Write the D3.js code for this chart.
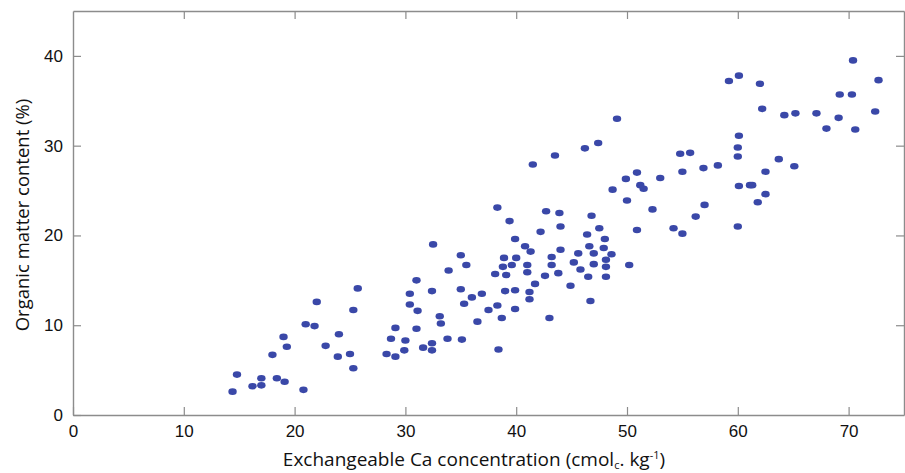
<!DOCTYPE html>
<html>
<head>
<meta charset="utf-8">
<script src="https://cdn.jsdelivr.net/npm/d3@7"></script>
<style>
  html, body { margin: 0; padding: 0; background: #fff; }
  svg { display: block; }
</style>
</head>
<body>
<div id="vue"></div>
<script>
// Exchangeable Ca (cmolc/kg) vs organic matter (%)
var caValues = [
  14.4, 14.8, 16.2, 17.0, 17.0, 18.4, 19.1, 20.8, 18.0, 19.0,
  19.3, 21.0, 21.8, 22.0, 22.8, 24.0, 23.9, 25.0, 25.3, 25.3,
  25.7, 28.3, 28.7, 29.1, 29.1,
  43.5, 41.5, 38.3, 42.7, 43.9, 39.4, 44.0, 42.2, 39.9, 40.8,
  41.3, 44.0, 32.5, 35.0, 35.5, 38.9, 40.0, 43.2, 38.8, 39.6,
  41.0, 43.2, 33.9, 38.1, 39.1, 41.0, 42.6, 43.8, 31.0, 44.9,
  30.4, 32.4, 35.0, 36.0, 36.9, 39.0, 39.9, 41.7, 41.2, 41.2,
  30.4, 31.1, 35.3, 38.3, 37.5, 39.9, 33.1, 33.2, 38.7, 43.0,
  36.5, 31.0, 30.0, 33.8, 35.1, 32.4, 31.6, 29.9, 32.4, 38.4,
  49.1, 46.2, 47.4, 54.8, 55.7, 50.9, 49.9, 53.0, 55.0, 56.9,
  58.2, 48.7, 51.2, 51.5, 50.0, 52.3, 57.0, 56.2, 46.8, 47.5,
  50.9, 54.2, 55.0, 46.4, 48.0, 46.6, 47.9, 45.6, 47.0, 48.6,
  48.1, 45.2, 47.0, 48.1, 50.2, 45.8, 46.5, 48.1, 46.7,
  70.4, 72.7, 59.2, 60.1, 62.0, 69.2, 70.3, 62.2, 64.2, 65.2,
  67.1, 69.1, 72.4, 68.0, 70.6, 60.1, 60.0, 60.0, 63.7, 65.1,
  62.5, 60.1, 61.1, 61.3, 62.5, 61.8, 60.0
];
var omValues = [
  2.6, 4.5, 3.2, 3.3, 4.1, 4.1, 3.7, 2.8, 6.7, 8.7,
  7.6, 10.1, 9.9, 12.6, 7.7, 9.0, 6.5, 6.8, 5.2, 11.7,
  14.1, 6.8, 8.5, 6.5, 9.7,
  28.9, 27.9, 23.1, 22.7, 22.5, 21.6, 21.0, 20.4, 19.6, 18.8,
  18.2, 18.4, 19.0, 17.8, 16.7, 17.5, 17.5, 17.6, 16.5, 16.7,
  16.7, 16.7, 16.1, 15.7, 15.6, 15.9, 15.5, 15.8, 15.0, 14.4,
  13.5, 13.8, 14.0, 13.1, 13.5, 13.8, 13.9, 14.6, 13.7, 12.9,
  12.3, 11.6, 12.4, 12.2, 11.7, 11.8, 11.0, 10.2, 10.8, 10.8,
  10.4, 9.6, 8.3, 8.5, 8.4, 8.0, 7.5, 7.2, 7.2, 7.3,
  33.0, 29.7, 30.3, 29.1, 29.2, 27.0, 26.3, 26.4, 27.1, 27.5,
  27.8, 25.1, 25.6, 25.2, 23.9, 22.9, 23.4, 22.1, 22.2, 20.8,
  20.6, 20.8, 20.2, 20.1, 19.6, 18.8, 18.6, 18.0, 18.0, 17.9,
  17.3, 17.0, 16.8, 16.5, 16.7, 16.2, 15.4, 15.4, 12.7,
  39.5, 37.3, 37.2, 37.8, 36.9, 35.7, 35.7, 34.1, 33.4, 33.6,
  33.6, 33.1, 33.8, 31.9, 31.8, 31.1, 29.8, 28.8, 28.5, 27.7,
  27.1, 25.5, 25.6, 25.6, 24.6, 23.7, 21.0
];
var xTicks = [0, 10, 20, 30, 40, 50, 60, 70];
var yTicks = [0, 10, 20, 30, 40];

var width = 905, height = 473;
var mLeft = 73, mRight = 904, mTop = 11, mBottom = 415;
var axisColor = "#8c8c8c";
var dotColor = "#3a48a8";

var dataset = caValues.map(function (d, i) { return { x: d, y: omValues[i] }; });

var svg = d3.select("#vue").append("svg")
  .attr("width", width)
  .attr("height", height);

var x = d3.scaleLinear().domain([0, 75]).range([mLeft, mRight]);
var y = d3.scaleLinear().domain([0, 45]).range([mBottom, mTop]);

function styleAxis(g) {
  g.selectAll(".domain").attr("stroke", axisColor).attr("stroke-width", 1.4);
  g.selectAll(".tick line").attr("stroke", axisColor).attr("stroke-width", 1.2);
  g.selectAll(".tick text")
    .attr("fill", "#111")
    .style("font-family", "'Liberation Sans', Arial, sans-serif")
    .style("font-size", "17px");
}

// bas
svg.append("g")
  .attr("transform", "translate(0," + mBottom + ")")
  .call(d3.axisBottom(x).tickValues(xTicks).tickSizeInner(-8).tickSizeOuter(0).tickPadding(10))
  .call(styleAxis);

// haut (sans etiquettes)
svg.append("g")
  .attr("transform", "translate(0," + mTop + ")")
  .call(d3.axisTop(x).tickValues(xTicks.slice(1)).tickSizeInner(-8).tickSizeOuter(0).tickFormat(""))
  .call(styleAxis);

// gauche
svg.append("g")
  .attr("transform", "translate(" + mLeft + ",0)")
  .call(d3.axisLeft(y).tickValues(yTicks).tickSizeInner(-8).tickSizeOuter(0).tickPadding(10))
  .call(styleAxis);

// droite
svg.append("g")
  .attr("transform", "translate(" + mRight + ",0)")
  .call(d3.axisRight(y).tickValues(yTicks.slice(1)).tickSizeInner(-8).tickSizeOuter(0).tickFormat(""))
  .call(styleAxis);

// points
svg.append("g")
  .selectAll("ellipse")
  .data(dataset)
  .enter()
  .append("ellipse")
  .attr("cx", function (d) { return x(d.x); })
  .attr("cy", function (d) { return y(d.y); })
  .attr("rx", 4.2)
  .attr("ry", 3.3)
  .attr("fill", dotColor);

// titres
var titleFont = "'Open Sans', 'Noto Sans', sans-serif";

var xt = svg.append("text")
  .attr("x", 474)
  .attr("y", 466)
  .attr("text-anchor", "middle")
  .style("font-family", titleFont)
  .style("font-size", "19px")
  .attr("fill", "#111");
xt.append("tspan").text("Exchangeable Ca concentration (cmol");
xt.append("tspan").attr("dy", 3).style("font-size", "11px").text("c");
xt.append("tspan").attr("dy", -3).text(". kg");
xt.append("tspan").attr("dy", -7).style("font-size", "11px").text("-1");
xt.append("tspan").attr("dy", 7).text(")");

svg.append("text")
  .attr("transform", "translate(29,215) rotate(-90)")
  .attr("text-anchor", "middle")
  .style("font-family", titleFont)
  .style("font-size", "18.5px")
  .attr("fill", "#111")
  .text("Organic matter content (%)");
</script>
</body>
</html>
